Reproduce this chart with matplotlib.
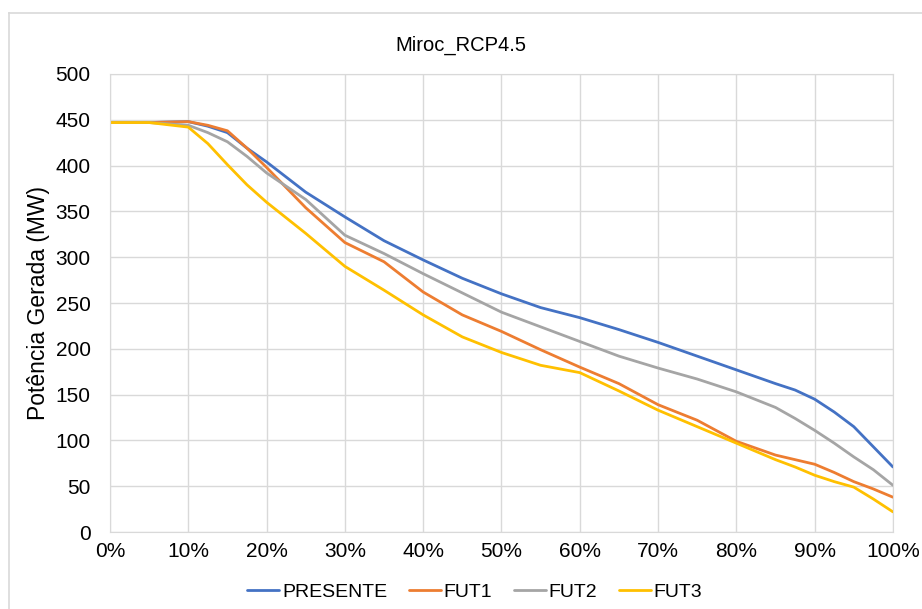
import matplotlib.pyplot as plt
from matplotlib.ticker import FuncFormatter
from matplotlib.lines import Line2D

plt.rcParams['font.family'] = ['Liberation Sans', 'DejaVu Sans']

# percentual do tempo (permanência) e potência gerada (MW)
perc = [0, 5, 10, 12.5, 15, 17.5, 20, 25, 30, 35, 40, 45, 50, 55, 60, 65, 70, 75, 80, 85, 87.5, 90, 92.5, 95, 97.5, 100]
presente = [447, 447, 448, 443, 436, 419, 404, 371, 344, 318, 297, 277, 260, 245, 234, 221, 207, 192, 177, 162, 155, 145, 131, 115, 93, 71]
fut1 = [447, 447, 448, 444, 438, 419, 398, 354, 316, 295, 262, 237, 219, 199, 180, 162, 139, 122, 99, 84, 79, 74, 65, 55, 47, 38]
fut2 = [447, 447, 444, 436, 426, 410, 392, 363, 324, 304, 282, 261, 240, 224, 208, 192, 179, 167, 153, 136, 124, 111, 97, 82, 68, 51]
fut3 = [447, 447, 442, 424, 401, 379, 360, 326, 290, 264, 237, 213, 196, 182, 174, 154, 133, 115, 97, 79, 71, 62, 55, 49, 36, 22]

series = [('PRESENTE', presente, '#4472C4'),
          ('FUT1', fut1, '#ED7D31'),
          ('FUT2', fut2, '#A5A5A5'),
          ('FUT3', fut3, '#FFC000')]

fig = plt.figure(figsize=(9.22, 6.09), dpi=100)
ax = fig.add_axes([0.1193, 0.1264, 0.8492, 0.7521])

for nome, vals, cor in series:
    ax.plot(perc, vals, color=cor, linewidth=2.0, label=nome,
            solid_capstyle='round', solid_joinstyle='round')

ax.set_xlim(0, 100)
ax.set_ylim(0, 500)
ax.set_xticks(range(0, 101, 10))
ax.set_yticks(range(0, 501, 50))
ax.xaxis.set_major_formatter(FuncFormatter(lambda v, p: f'{int(v)}%'))
ax.grid(True, color='#D9D9D9', linewidth=1)
ax.set_axisbelow(True)
for s in ax.spines.values():
    s.set_color('#D9D9D9')
ax.tick_params(length=0, labelsize=15, colors='#000000', pad=7)
ax.tick_params(axis='y', pad=14)

ax.set_ylabel('Potência Gerada (MW)', fontsize=16.5, labelpad=4)
fig.text(0.5, 0.925, 'Miroc_RCP4.5', ha='center', va='center', fontsize=14.5)

ax.legend(loc='center', bbox_to_anchor=(0.466, -0.131), ncol=4, frameon=False,
          fontsize=14, handlelength=1.65, columnspacing=1.1, handletextpad=0.15)

# moldura do gráfico
fig.add_artist(Line2D([9 / 922, 9 / 922], [0, 1 - 13 / 609], color='#D9D9D9', linewidth=1.2))
fig.add_artist(Line2D([9 / 922, 1], [1 - 13 / 609, 1 - 13 / 609], color='#D9D9D9', linewidth=1.2))

plt.savefig('out.png', dpi=100)
